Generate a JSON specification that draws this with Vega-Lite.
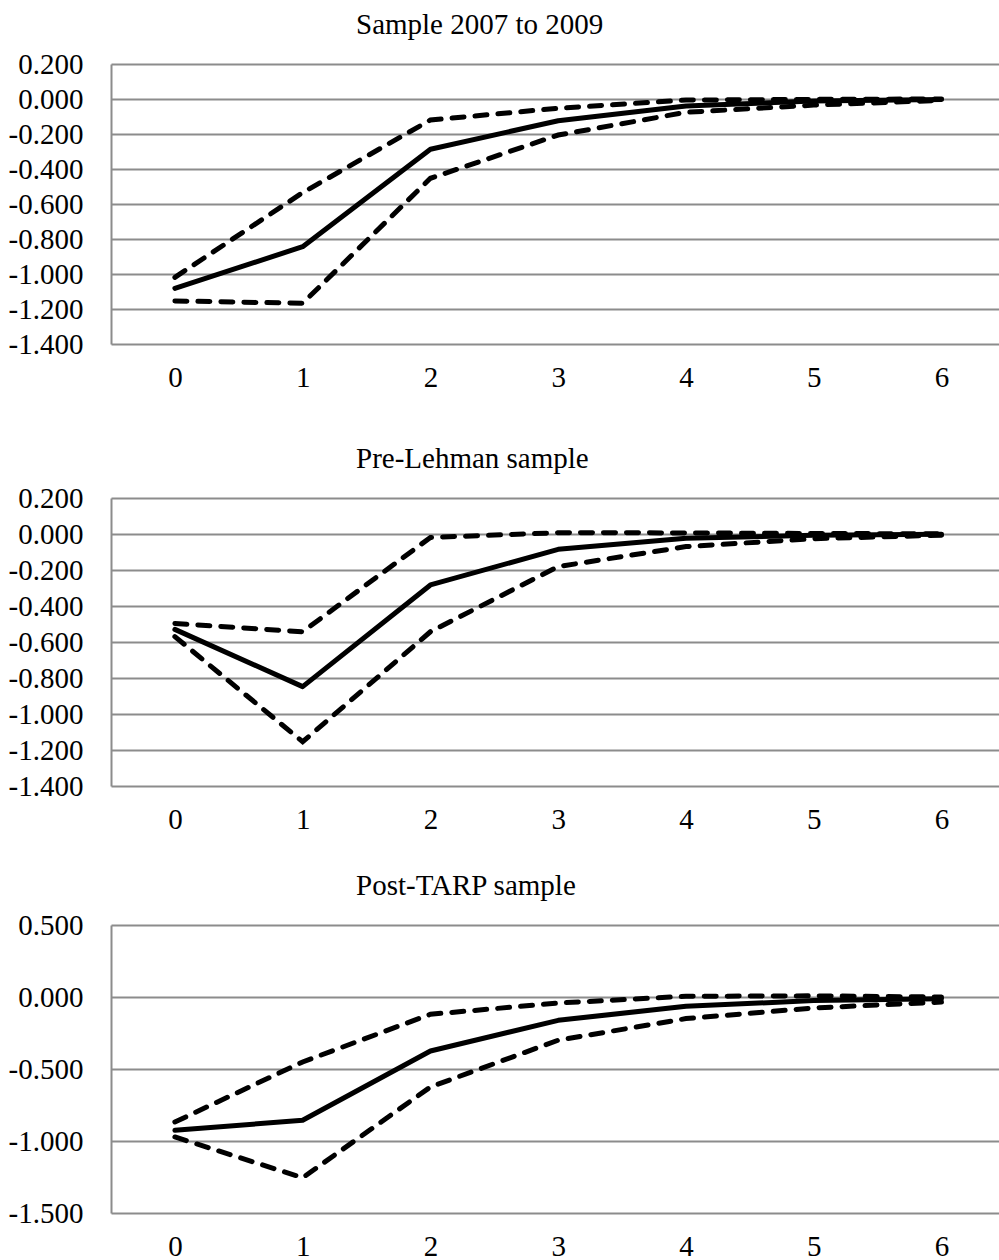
{
  "$schema": "https://vega.github.io/schema/vega-lite/v6.json",
  "background": "white",
  "padding": {"left": 8, "top": 11, "right": 0, "bottom": 0},
  "bounds": "flush",
  "spacing": 154,
  "config": {
    "view": {"stroke": null},
    "font": "Liberation Serif",
    "title": {"font": "Liberation Serif", "fontSize": 29, "fontWeight": "normal", "color": "black", "anchor": "start", "frame": "group", "dx": 245, "baseline": "alphabetic", "offset": 10},
    "axis": {"labelFont": "Liberation Serif", "labelFontSize": 29, "labelColor": "black", "ticks": false, "title": null}
  },
  "datasets": {
    "irf": [
      {"panel": "A", "series": "Response", "h": 0, "v": -1.082},
      {"panel": "A", "series": "Response", "h": 1, "v": -0.844},
      {"panel": "A", "series": "Response", "h": 2, "v": -0.287},
      {"panel": "A", "series": "Response", "h": 3, "v": -0.124},
      {"panel": "A", "series": "Response", "h": 4, "v": -0.040},
      {"panel": "A", "series": "Response", "h": 5, "v": -0.012},
      {"panel": "A", "series": "Response", "h": 6, "v": -0.003},
      {"panel": "A", "series": "Upper", "h": 0, "v": -1.019},
      {"panel": "A", "series": "Upper", "h": 1, "v": -0.535},
      {"panel": "A", "series": "Upper", "h": 2, "v": -0.120},
      {"panel": "A", "series": "Upper", "h": 3, "v": -0.053},
      {"panel": "A", "series": "Upper", "h": 4, "v": -0.006},
      {"panel": "A", "series": "Upper", "h": 5, "v": -0.002},
      {"panel": "A", "series": "Upper", "h": 6, "v": 0.000},
      {"panel": "A", "series": "Lower", "h": 0, "v": -1.154},
      {"panel": "A", "series": "Lower", "h": 1, "v": -1.167},
      {"panel": "A", "series": "Lower", "h": 2, "v": -0.453},
      {"panel": "A", "series": "Lower", "h": 3, "v": -0.206},
      {"panel": "A", "series": "Lower", "h": 4, "v": -0.076},
      {"panel": "A", "series": "Lower", "h": 5, "v": -0.035},
      {"panel": "A", "series": "Lower", "h": 6, "v": -0.008},
      {"panel": "B", "series": "Response", "h": 0, "v": -0.530},
      {"panel": "B", "series": "Response", "h": 1, "v": -0.848},
      {"panel": "B", "series": "Response", "h": 2, "v": -0.283},
      {"panel": "B", "series": "Response", "h": 3, "v": -0.085},
      {"panel": "B", "series": "Response", "h": 4, "v": -0.024},
      {"panel": "B", "series": "Response", "h": 5, "v": -0.007},
      {"panel": "B", "series": "Response", "h": 6, "v": -0.002},
      {"panel": "B", "series": "Upper", "h": 0, "v": -0.497},
      {"panel": "B", "series": "Upper", "h": 1, "v": -0.543},
      {"panel": "B", "series": "Upper", "h": 2, "v": -0.019},
      {"panel": "B", "series": "Upper", "h": 3, "v": 0.007},
      {"panel": "B", "series": "Upper", "h": 4, "v": 0.006},
      {"panel": "B", "series": "Upper", "h": 5, "v": 0.003},
      {"panel": "B", "series": "Upper", "h": 6, "v": 0.001},
      {"panel": "B", "series": "Lower", "h": 0, "v": -0.570},
      {"panel": "B", "series": "Lower", "h": 1, "v": -1.154},
      {"panel": "B", "series": "Lower", "h": 2, "v": -0.543},
      {"panel": "B", "series": "Lower", "h": 3, "v": -0.181},
      {"panel": "B", "series": "Lower", "h": 4, "v": -0.070},
      {"panel": "B", "series": "Lower", "h": 5, "v": -0.026},
      {"panel": "B", "series": "Lower", "h": 6, "v": -0.007},
      {"panel": "C", "series": "Response", "h": 0, "v": -0.926},
      {"panel": "C", "series": "Response", "h": 1, "v": -0.856},
      {"panel": "C", "series": "Response", "h": 2, "v": -0.375},
      {"panel": "C", "series": "Response", "h": 3, "v": -0.162},
      {"panel": "C", "series": "Response", "h": 4, "v": -0.065},
      {"panel": "C", "series": "Response", "h": 5, "v": -0.025},
      {"panel": "C", "series": "Response", "h": 6, "v": -0.012},
      {"panel": "C", "series": "Upper", "h": 0, "v": -0.868},
      {"panel": "C", "series": "Upper", "h": 1, "v": -0.451},
      {"panel": "C", "series": "Upper", "h": 2, "v": -0.120},
      {"panel": "C", "series": "Upper", "h": 3, "v": -0.042},
      {"panel": "C", "series": "Upper", "h": 4, "v": 0.005},
      {"panel": "C", "series": "Upper", "h": 5, "v": 0.008},
      {"panel": "C", "series": "Upper", "h": 6, "v": 0.000},
      {"panel": "C", "series": "Lower", "h": 0, "v": -0.972},
      {"panel": "C", "series": "Lower", "h": 1, "v": -1.255},
      {"panel": "C", "series": "Lower", "h": 2, "v": -0.625},
      {"panel": "C", "series": "Lower", "h": 3, "v": -0.300},
      {"panel": "C", "series": "Lower", "h": 4, "v": -0.150},
      {"panel": "C", "series": "Lower", "h": 5, "v": -0.076},
      {"panel": "C", "series": "Lower", "h": 6, "v": -0.035}
    ]
  },
  "vconcat": [
    {
      "title": "Sample 2007 to 2009",
      "width": 888,
      "height": 280,
      "data": {"name": "irf"},
      "transform": [{"filter": "datum.panel === 'A'"}],
      "encoding": {
        "x": {"field": "h", "type": "quantitative", "scale": {"domain": [-0.5, 6.45], "nice": false, "zero": false}, "axis": {"values": [0, 1, 2, 3, 4, 5, 6], "format": "d", "grid": false, "domain": false, "labelPadding": 42, "labelBaseline": "alphabetic"}},
        "y": {"field": "v", "type": "quantitative", "scale": {"domain": [-1.4, 0.2], "nice": false, "zero": false}, "axis": {"values": [0.2, 0, -0.2, -0.4, -0.6, -0.8, -1, -1.2, -1.4], "labelExpr": "replace(format(datum.value, '.3f'), '\u2212', '-')", "grid": true, "gridColor": "#8c8c8c", "gridWidth": 2, "domain": true, "domainColor": "#8c8c8c", "domainWidth": 2, "labelPadding": 28}}
      },
      "layer": [
        {"transform": [{"filter": "datum.series !== 'Response'"}], "mark": {"type": "line", "color": "black", "strokeWidth": 5, "strokeDash": [12, 11], "strokeCap": "round"}, "encoding": {"detail": {"field": "series"}}},
        {"transform": [{"filter": "datum.series === 'Response'"}], "mark": {"type": "line", "color": "black", "strokeWidth": 5, "strokeCap": "round", "strokeJoin": "round"}, "encoding": {}}
      ]
    },
    {
      "spacing": 139,
      "bounds": "flush",
      "vconcat": [
        {
          "title": "Pre-Lehman sample",
          "width": 888,
          "height": 288,
          "data": {"name": "irf"},
          "transform": [{"filter": "datum.panel === 'B'"}],
          "encoding": {
            "x": {"field": "h", "type": "quantitative", "scale": {"domain": [-0.5, 6.45], "nice": false, "zero": false}, "axis": {"values": [0, 1, 2, 3, 4, 5, 6], "format": "d", "grid": false, "domain": false, "labelPadding": 42, "labelBaseline": "alphabetic"}},
            "y": {"field": "v", "type": "quantitative", "scale": {"domain": [-1.4, 0.2], "nice": false, "zero": false}, "axis": {"values": [0.2, 0, -0.2, -0.4, -0.6, -0.8, -1, -1.2, -1.4], "labelExpr": "replace(format(datum.value, '.3f'), '\u2212', '-')", "grid": true, "gridColor": "#8c8c8c", "gridWidth": 2, "domain": true, "domainColor": "#8c8c8c", "domainWidth": 2, "labelPadding": 28}}
          },
          "layer": [
            {"transform": [{"filter": "datum.series !== 'Response'"}], "mark": {"type": "line", "color": "black", "strokeWidth": 5, "strokeDash": [12, 11], "strokeCap": "round"}, "encoding": {"detail": {"field": "series"}}},
            {"transform": [{"filter": "datum.series === 'Response'"}], "mark": {"type": "line", "color": "black", "strokeWidth": 5, "strokeCap": "round", "strokeJoin": "round"}, "encoding": {}}
          ]
        },
        {
          "title": "Post-TARP sample",
          "width": 888,
          "height": 288,
          "data": {"name": "irf"},
          "transform": [{"filter": "datum.panel === 'C'"}],
          "encoding": {
            "x": {"field": "h", "type": "quantitative", "scale": {"domain": [-0.5, 6.45], "nice": false, "zero": false}, "axis": {"values": [0, 1, 2, 3, 4, 5, 6], "format": "d", "grid": false, "domain": false, "labelPadding": 42, "labelBaseline": "alphabetic"}},
            "y": {"field": "v", "type": "quantitative", "scale": {"domain": [-1.5, 0.5], "nice": false, "zero": false}, "axis": {"values": [0.5, 0, -0.5, -1, -1.5], "labelExpr": "replace(format(datum.value, '.3f'), '\u2212', '-')", "grid": true, "gridColor": "#8c8c8c", "gridWidth": 2, "domain": true, "domainColor": "#8c8c8c", "domainWidth": 2, "labelPadding": 28}}
          },
          "layer": [
            {"transform": [{"filter": "datum.series !== 'Response'"}], "mark": {"type": "line", "color": "black", "strokeWidth": 5, "strokeDash": [12, 11], "strokeCap": "round"}, "encoding": {"detail": {"field": "series"}}},
            {"transform": [{"filter": "datum.series === 'Response'"}], "mark": {"type": "line", "color": "black", "strokeWidth": 5, "strokeCap": "round", "strokeJoin": "round"}, "encoding": {}}
          ]
        }
      ]
    }
  ]
}
